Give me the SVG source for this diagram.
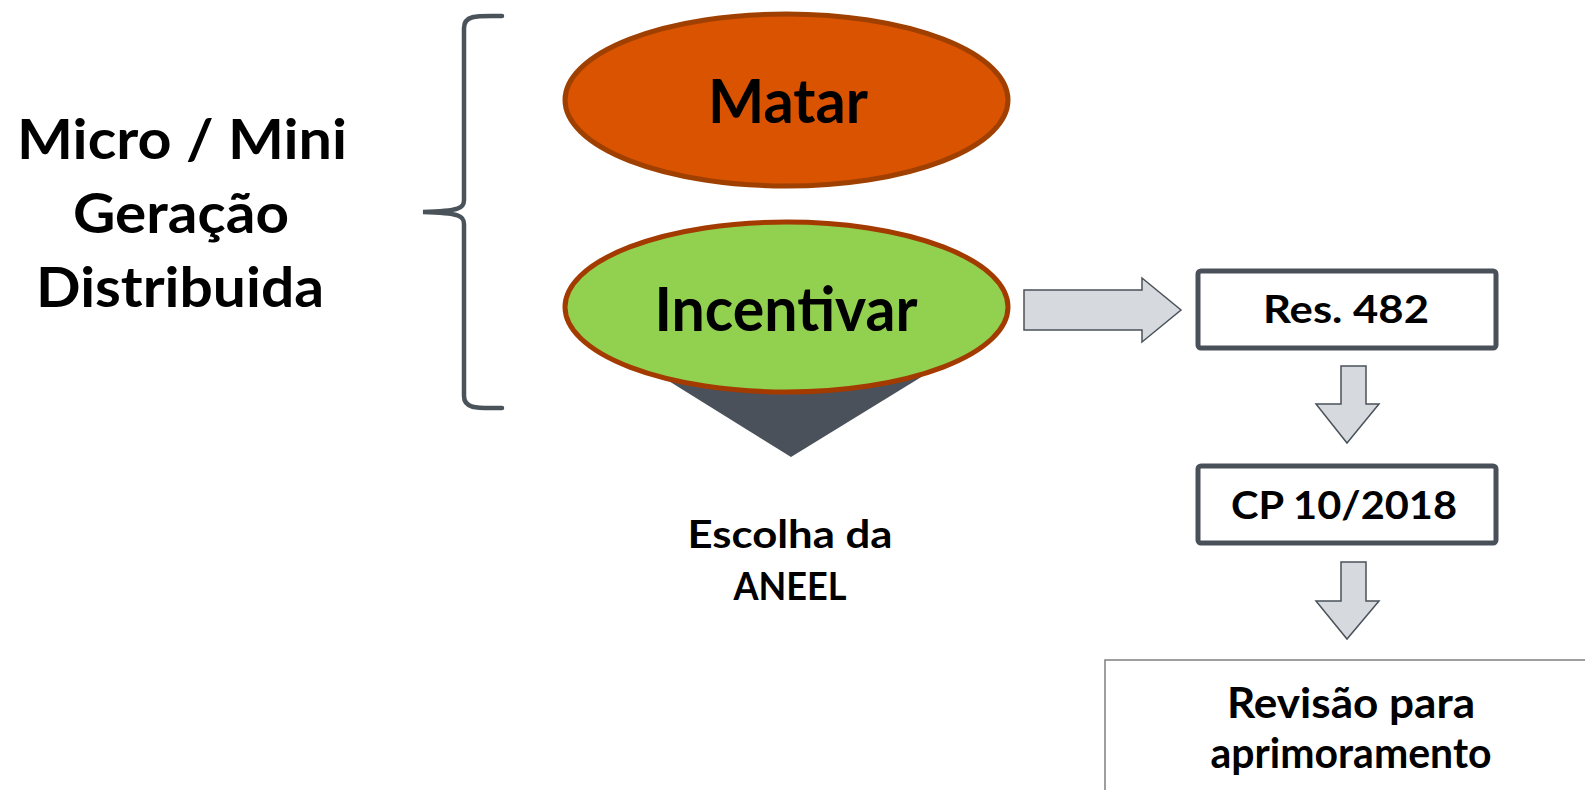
<svg xmlns="http://www.w3.org/2000/svg" width="1585" height="790" viewBox="0 0 1585 790">
<style>
text{font-family:"Lato","Open Sans","Liberation Sans",sans-serif;font-weight:bold;fill:#000;text-anchor:middle}
.arrow{fill:#d6dadf;stroke:#4a525a;stroke-width:1.5;stroke-linejoin:miter}
.box{fill:#fff;stroke:#4a5059;stroke-width:5}
</style>
<rect width="1585" height="790" fill="#fff"/>
<g id="label-left">
<text x="182" y="159" font-size="56" textLength="330" lengthAdjust="spacingAndGlyphs">Micro / Mini</text>
<text x="181" y="233" font-size="56" textLength="216" lengthAdjust="spacingAndGlyphs">Geração</text>
<text x="180" y="307" font-size="56" textLength="288" lengthAdjust="spacingAndGlyphs">Distribuida</text>
</g>
<g id="brace">
<path d="M502,16 C480,16 464,14 464,28 L464,200 C464,208 460,211 423,212 C460,213 464,216 464,224 L464,396 C464,410 480,408 502,408" fill="none" stroke="#4a525a" stroke-width="4.5" stroke-linecap="round"/>
</g>
<g id="choice">
<polygon points="635,360 949,360 791,457" fill="#4a515a"/>
<text x="790" y="548" font-size="39" textLength="205" lengthAdjust="spacingAndGlyphs">Escolha da</text>
<text x="790" y="600" font-size="39" textLength="113" lengthAdjust="spacingAndGlyphs">ANEEL</text>
</g>
<g id="matar">
<ellipse cx="786.5" cy="100" rx="221.5" ry="86" fill="#d95300" stroke="#a04000" stroke-width="5"/>
<text x="788" y="123" font-size="61" textLength="160" lengthAdjust="spacingAndGlyphs">Matar</text>
</g>
<g id="incentivar">
<ellipse cx="786.5" cy="307" rx="221.5" ry="85" fill="#92d050" stroke="#a33b00" stroke-width="5"/>
<text x="786" y="331" font-size="61" textLength="263" lengthAdjust="spacingAndGlyphs">Incentivar</text>
</g>
<g id="connectors">
<polygon class="arrow" points="1024,290 1142,290 1142,278 1181,310 1142,342 1142,330 1024,330"/>
<polygon class="arrow" points="1341,366 1366,366 1366,404 1379,404 1347,443 1316,404 1341,404"/>
<polygon class="arrow" points="1341,562 1366,562 1366,601 1379,601 1347,639 1316,601 1341,601"/>
</g>
<g id="res482">
<rect class="box" x="1198" y="271" width="298" height="77" rx="3"/>
<text x="1346" y="323" font-size="39" textLength="166" lengthAdjust="spacingAndGlyphs">Res. 482</text>
</g>
<g id="cp10">
<rect class="box" x="1198" y="466" width="298" height="77" rx="3"/>
<text x="1344" y="519" font-size="39" textLength="226" lengthAdjust="spacingAndGlyphs">CP 10/2018</text>
</g>
<g id="revisao">
<rect x="1105" y="660" width="490" height="140" fill="#fff" stroke="#7f7f7f" stroke-width="1.5"/>
<text x="1351" y="718" font-size="42" textLength="248" lengthAdjust="spacingAndGlyphs">Revisão para</text>
<text x="1351" y="768" font-size="42" textLength="281" lengthAdjust="spacingAndGlyphs">aprimoramento</text>
</g>
</svg>
